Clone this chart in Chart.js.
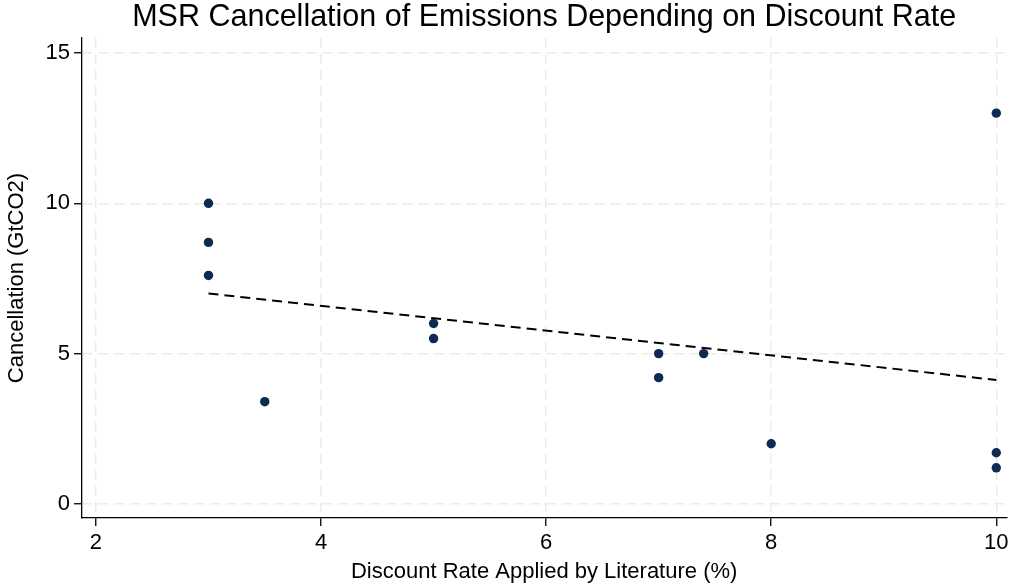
<!DOCTYPE html>
<html>
<head>
<meta charset="utf-8">
<script src="https://cdn.jsdelivr.net/npm/chart.js@4.4.0/dist/chart.umd.min.js"></script>
<style>
  html, body { margin: 0; padding: 0; background: #ffffff; }
  #wrap { width: 1011px; height: 588px; position: relative; }
</style>
</head>
<body>
<div id="wrap"><canvas id="c"></canvas></div>
<script>
// Discount rate (%) used by each study and the MSR cancellation it reports (GtCO2)
const discountRates = [3, 3, 3, 3.5, 5, 5, 7, 7, 7.4, 8, 10, 10, 10];
const cancellations = [10, 8.7, 7.6, 3.4, 6, 5.5, 5, 4.2, 5, 2, 13, 1.7, 1.2];

// Linear fit, evaluated at the ends of the observed range
const fitRates = [3, 10];
const fitValues = [7.0, 4.12];

// Axis tick values
const xTicks = [2, 4, 6, 8, 10];
const yTicks = [0, 5, 10, 15];

const TITLE = 'MSR Cancellation of Emissions Depending on Discount Rate';
const FONT = "'Liberation Sans', Arial, Helvetica, sans-serif";
const GRID = '#ebebeb';
const NAVY = '#0c2a52';

const points = discountRates.map((x, i) => ({ x: x, y: cancellations[i] }));
const fit = fitRates.map((x, i) => ({ x: x, y: fitValues[i] }));

// Title centred over the plot region rather than the whole canvas
const plotTitle = {
  id: 'plotTitle',
  afterDraw(chart) {
    const { ctx, chartArea } = chart;
    ctx.save();
    ctx.font = '30.5px ' + FONT;
    ctx.fillStyle = '#000000';
    ctx.textAlign = 'center';
    ctx.textBaseline = 'middle';
    ctx.fillText(TITLE, (chartArea.left + chartArea.right) / 2, 18);
    ctx.restore();
  }
};

new Chart(document.getElementById('c'), {
  type: 'scatter',
  data: {
    datasets: [
      {
        label: 'Cancellation',
        data: points,
        backgroundColor: NAVY,
        borderColor: NAVY,
        pointRadius: 4.7,
        pointBorderWidth: 0,
        order: 1
      },
      {
        label: 'Fitted values',
        type: 'line',
        data: fit,
        borderColor: '#000000',
        borderWidth: 2,
        borderDash: [10, 6],
        pointRadius: 0,
        fill: false,
        order: 2
      }
    ]
  },
  plugins: [plotTitle],
  options: {
    responsive: true,
    maintainAspectRatio: false,
    animation: false,
    events: [],
    layout: { padding: { left: 0, right: 1, top: 38, bottom: 0 } },
    plugins: {
      legend: { display: false },
      tooltip: { enabled: false },
      title: { display: false }
    },
    scales: {
      x: {
        type: 'linear',
        min: 1.876,
        max: 10.089,
        afterBuildTicks: s => { s.ticks = xTicks.map(v => ({ value: v })); },
        afterFit: s => { s.height = 70; s.paddingLeft = 0; s.paddingRight = 0; },
        ticks: {
          color: '#000000',
          font: { family: FONT, size: 22 },
          padding: 4,
          maxRotation: 0
        },
        grid: {
          color: GRID,
          lineWidth: 1.5,
          tickColor: '#000000',
          tickWidth: 1.3,
          tickLength: 8,
          tickBorderDash: []
        },
        border: { display: true, color: '#000000', width: 1.3, dash: [10, 6] },
        title: {
          display: true,
          text: 'Discount Rate Applied by Literature (%)',
          color: '#000000',
          font: { family: FONT, size: 22 },
          padding: { top: 2, bottom: 2.8 }
        }
      },
      y: {
        type: 'linear',
        min: -0.47,
        max: 15.5,
        afterBuildTicks: s => { s.ticks = yTicks.map(v => ({ value: v })); },
        afterFit: s => { s.width = 82; s.paddingTop = 0; s.paddingBottom = 0; },
        ticks: {
          color: '#000000',
          font: { family: FONT, size: 22 },
          padding: 4
        },
        grid: {
          color: GRID,
          lineWidth: 1.5,
          tickColor: '#000000',
          tickWidth: 1.3,
          tickLength: 8,
          tickBorderDash: []
        },
        border: { display: true, color: '#000000', width: 1.3, dash: [10, 6] },
        title: {
          display: true,
          text: 'Cancellation (GtCO2)',
          color: '#000000',
          font: { family: FONT, size: 22 },
          padding: { top: 4, bottom: 4 }
        }
      }
    }
  }
});
</script>
</body>
</html>
